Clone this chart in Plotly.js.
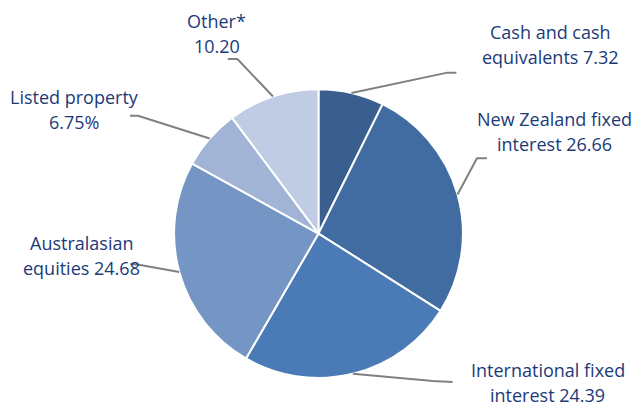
<!DOCTYPE html>
<html><head><meta charset="utf-8">
<script src="https://cdn.plot.ly/plotly-3.0.1.min.js"></script>
<style>html,body{margin:0;padding:0;background:#fff}</style>
</head><body><div id="chart" style="width:638px;height:407px"></div>
<script>
// ---- data ----
const categories = ["Cash and cash equivalents", "New Zealand fixed interest", "International fixed interest", "Australasian equities", "Listed property", "Other*"];
const values = [7.32, 26.66, 24.39, 24.68, 6.75, 10.20];
const labelLines1 = ["Cash and cash", "New Zealand fixed", "International fixed", "Australasian", "Listed property", "Other*"];
const labelLines2 = ["equivalents 7.32", "interest 26.66", "interest 24.39", "equities 24.68", "6.75%", "10.20"];
const colors = ["#3a5f8e", "#406ca1", "#4a7bb6", "#7595c5", "#a1b4d6", "#c0cce3"];

// ---- layout / styling (pixel offsets from each slice's edge midpoint) ----
const W = 638, H = 407;
const domX = [0.2727, 0.7257], domY = [0.0713, 0.781];
const elbowOff = [[96, -20.3], [19.4, -36.4], [80, 7.2], [-39, -7], [-71.7, -22.7], [-35.6, -37.4]];
const endOff   = [[105, -20.3], [29.4, -36.4], [99.7, 8.2], [-49, -8], [-79.7, -22.7], [-45.2, -37.4]];
const labelOff = [[199.5, -48.3], [97.4, -62.9], [195, 8.5], [-98.2, -16.4], [-135.7, -29.1], [-56.4, -62.7]];
const lineGap = 25;

const cx = (domX[0] + domX[1]) / 2 * W;
const cy = (1 - (domY[0] + domY[1]) / 2) * H;
const r = Math.min((domX[1] - domX[0]) * W, (domY[1] - domY[0]) * H) / 2;
const total = values.reduce((a, b) => a + b, 0);

const px = x => x / W, py = y => 1 - y / H;
const font = {family: 'Open Sans, Noto Sans, sans-serif', size: 18, color: '#1c3a78'};
const shapes = [], annotations = [];
let cum = 0;
values.forEach((v, i) => {
  const mid = (cum + v / 2) / total * 2 * Math.PI;
  cum += v;
  const ex = cx + r * Math.sin(mid), ey = cy - r * Math.cos(mid);
  const bx = ex + elbowOff[i][0], by = ey + elbowOff[i][1];
  const tx = ex + endOff[i][0], ty = ey + endOff[i][1];
  shapes.push({
    type: 'path', xref: 'paper', yref: 'paper',
    path: `M ${px(ex)},${py(ey)} L ${px(bx)},${py(by)} L ${px(tx)},${py(ty)}`,
    line: {color: '#808080', width: 2}
  });
  const lx = ex + labelOff[i][0], ly = ey + labelOff[i][1];
  [[labelLines1[i], -lineGap / 2], [labelLines2[i], lineGap / 2]].forEach(([t, dy]) => {
    annotations.push({
      xref: 'paper', yref: 'paper', showarrow: false, borderpad: 0,
      x: px(lx), y: py(ly + dy), xanchor: 'center', yanchor: 'middle',
      text: t, font: font
    });
  });
});

Plotly.newPlot('chart', [{
  type: 'pie', labels: categories, values: values, sort: false,
  direction: 'clockwise', rotation: 0, textinfo: 'none', hoverinfo: 'label+value',
  marker: {colors: colors, line: {color: '#ffffff', width: 2}},
  domain: {x: domX, y: domY}
}], {
  width: W, height: H, margin: {l: 0, r: 0, t: 0, b: 0},
  showlegend: false, paper_bgcolor: '#ffffff',
  shapes: shapes, annotations: annotations
}, {displayModeBar: false, staticPlot: true});
</script></body></html>
